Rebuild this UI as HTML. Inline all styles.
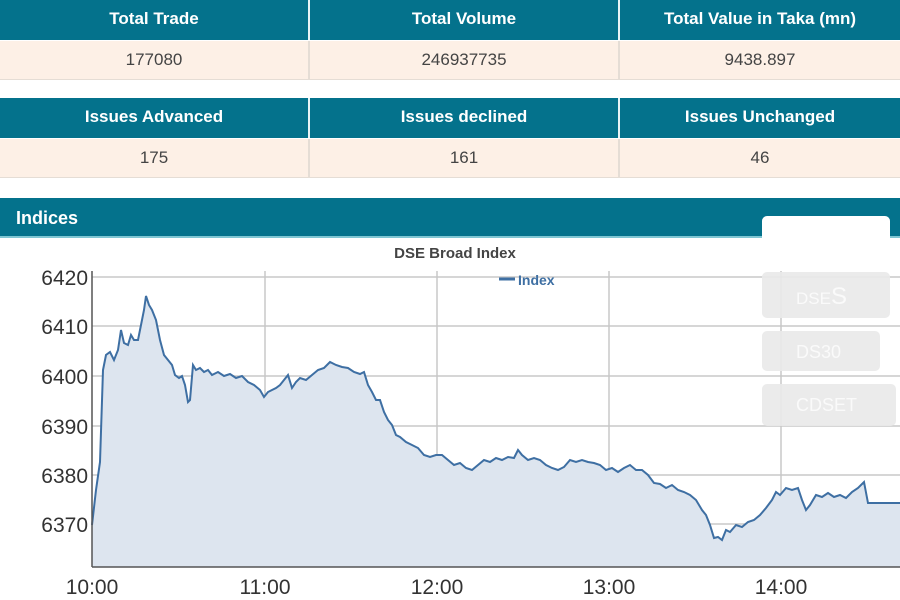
<!DOCTYPE html>
<html><head><style>
body{margin:0;width:900px;height:600px;overflow:hidden;background:#fff;font-family:"Liberation Sans",Arial,sans-serif;position:relative}
.t{position:absolute;left:0;width:900px;display:flex}
.t div{flex:none;text-align:center;box-sizing:border-box}
.h div{background:#04728c;color:#fff;font-weight:bold;font-size:17px;height:40px;line-height:38px;border-right:2px solid #e8f4f6}
.d div{background:#fdf0e6;color:#444;font-size:17px;height:39px;line-height:38px;border-right:2px solid #e5ddd5;border-bottom:1px solid #e5ddd5}
</style></head><body>
<div class="t h" style="top:0"><div style="width:310px">Total Trade</div><div style="width:310px">Total Volume</div><div style="width:280px;border:none">Total Value in Taka (mn)</div></div>
<div class="t d" style="top:41px"><div style="width:310px">177080</div><div style="width:310px">246937735</div><div style="width:280px;border-right:none">9438.897</div></div>
<div class="t h" style="top:98px"><div style="width:310px">Issues Advanced</div><div style="width:310px">Issues declined</div><div style="width:280px;border:none">Issues Unchanged</div></div>
<div class="t d" style="top:139px"><div style="width:310px">175</div><div style="width:310px">161</div><div style="width:280px;border-right:none">46</div></div>
<div style="position:absolute;top:198px;left:0;width:900px;height:40px;background:#04728c;border-bottom:2px solid #7fc6d3;color:#fff;font-weight:bold;font-size:18px;line-height:40px;padding-left:16px;box-sizing:border-box">Indices</div>
<svg style="position:absolute;left:0;top:0" width="900" height="600" font-family="Liberation Sans,Arial,sans-serif">
<text x="455" y="258" text-anchor="middle" font-size="15" font-weight="bold" fill="#444">DSE Broad Index</text>
<g stroke="#c8c8c8" stroke-width="1.5">
<line x1="92" y1="277" x2="900" y2="277"/><line x1="92" y1="326" x2="900" y2="326"/><line x1="92" y1="376" x2="900" y2="376"/><line x1="92" y1="426" x2="900" y2="426"/><line x1="92" y1="475" x2="900" y2="475"/><line x1="92" y1="524" x2="900" y2="524"/>
<line x1="265" y1="271" x2="265" y2="567"/><line x1="437" y1="271" x2="437" y2="567"/><line x1="609" y1="271" x2="609" y2="567"/><line x1="781" y1="271" x2="781" y2="567"/>
</g>
<polygon fill="#dde5ef" points="92,567 92,525 96,490 100,462 103,370 106,355 110,352 114,360 118,350 121,330 124,343 128,345 131,335 134,340 138,340 141,325 144,310 146,296 149,305 152,310 156,320 160,340 164,355 168,360 172,365 175,375 179,378 182,376 185,385 188,402 190,400 193,365 196,370 200,368 204,372 208,370 212,375 218,372 224,376 230,374 236,378 242,376 248,382 254,385 260,390 264,397 268,392 272,390 276,388 280,385 284,380 288,375 292,388 296,382 300,378 306,380 312,375 318,370 324,368 330,362 336,365 342,367 348,368 354,372 360,374 364,372 368,385 372,392 376,400 380,400 384,412 388,420 392,425 396,435 400,437 406,442 412,445 418,448 424,455 430,457 436,455 442,455 448,460 454,465 460,463 466,468 472,470 478,465 484,460 490,462 496,458 502,460 508,457 514,458 518,450 522,455 528,460 534,458 540,460 546,465 552,468 558,470 564,467 570,460 576,462 582,460 588,462 594,463 600,465 606,470 612,468 618,472 624,468 630,465 636,470 642,470 648,475 654,483 660,484 666,488 672,485 678,490 684,492 690,495 696,500 702,510 706,515 710,525 714,538 718,537 722,540 726,530 730,532 736,525 742,527 748,522 754,520 760,515 766,508 772,500 776,492 780,495 786,488 792,490 798,488 802,500 806,510 810,505 816,495 822,497 828,493 834,497 840,495 846,498 852,492 858,488 864,482 868,503 900,503 900,567"/>
<polyline fill="none" stroke="#3e6fa3" stroke-width="2" points="92,525 96,490 100,462 103,370 106,355 110,352 114,360 118,350 121,330 124,343 128,345 131,335 134,340 138,340 141,325 144,310 146,296 149,305 152,310 156,320 160,340 164,355 168,360 172,365 175,375 179,378 182,376 185,385 188,402 190,400 193,365 196,370 200,368 204,372 208,370 212,375 218,372 224,376 230,374 236,378 242,376 248,382 254,385 260,390 264,397 268,392 272,390 276,388 280,385 284,380 288,375 292,388 296,382 300,378 306,380 312,375 318,370 324,368 330,362 336,365 342,367 348,368 354,372 360,374 364,372 368,385 372,392 376,400 380,400 384,412 388,420 392,425 396,435 400,437 406,442 412,445 418,448 424,455 430,457 436,455 442,455 448,460 454,465 460,463 466,468 472,470 478,465 484,460 490,462 496,458 502,460 508,457 514,458 518,450 522,455 528,460 534,458 540,460 546,465 552,468 558,470 564,467 570,460 576,462 582,460 588,462 594,463 600,465 606,470 612,468 618,472 624,468 630,465 636,470 642,470 648,475 654,483 660,484 666,488 672,485 678,490 684,492 690,495 696,500 702,510 706,515 710,525 714,538 718,537 722,540 726,530 730,532 736,525 742,527 748,522 754,520 760,515 766,508 772,500 776,492 780,495 786,488 792,490 798,488 802,500 806,510 810,505 816,495 822,497 828,493 834,497 840,495 846,498 852,492 858,488 864,482 868,503 900,503"/>
<line x1="92" y1="271" x2="92" y2="567" stroke="#555" stroke-width="1.5"/>
<line x1="92" y1="567" x2="900" y2="567" stroke="#555" stroke-width="1.5"/>
<g font-size="21" fill="#333" text-anchor="end">
<text x="88" y="285">6420</text><text x="88" y="334">6410</text><text x="88" y="384">6400</text><text x="88" y="434">6390</text><text x="88" y="483">6380</text><text x="88" y="532">6370</text>
</g>
<g font-size="21" fill="#333" text-anchor="middle">
<text x="92" y="594">10:00</text><text x="265" y="594">11:00</text><text x="437" y="594">12:00</text><text x="609" y="594">13:00</text><text x="781" y="594">14:00</text>
</g>
<line x1="499" y1="279" x2="515" y2="279" stroke="#3e6fa3" stroke-width="3"/>
<text x="518" y="285" font-size="14" font-weight="bold" fill="#3e6fa3">Index</text>
<rect x="762" y="216" width="128" height="34" rx="5" fill="#fff"/>
<rect x="762" y="272" width="128" height="46" rx="5" fill="#e9e9e9" opacity="0.9"/>
<text x="796" y="304" font-size="17" fill="#fafafa">DSE<tspan font-size="24">S</tspan></text>
<rect x="762" y="331" width="118" height="40" rx="5" fill="#e9e9e9" opacity="0.9"/>
<text x="796" y="358" font-size="18" fill="#fafafa">DS30</text>
<rect x="762" y="384" width="134" height="42" rx="5" fill="#e9e9e9" opacity="0.9"/>
<text x="796" y="411" font-size="18" fill="#fafafa">CDSET</text>
</svg>
</body></html>
